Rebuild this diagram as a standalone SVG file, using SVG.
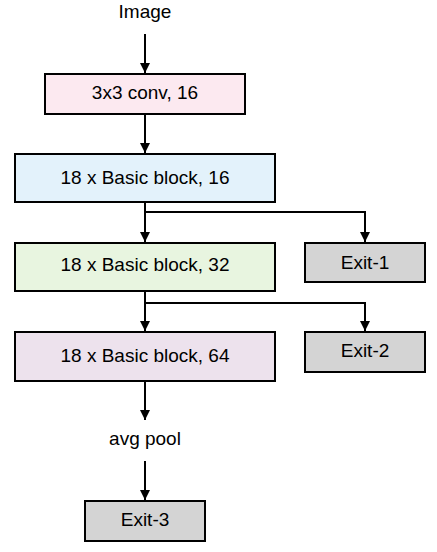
<svg xmlns="http://www.w3.org/2000/svg" width="437" height="552" viewBox="0 0 437 552">
<defs>
<marker id="ah" markerWidth="10" markerHeight="10" refX="10" refY="5" orient="auto" markerUnits="userSpaceOnUse">
<path d="M0,0 L10,5 L0,10 Z" fill="#000"/>
</marker>
<style>
.box{stroke:#000;stroke-width:2}
.t{font-family:"Liberation Sans",Arial,sans-serif;font-size:19px;fill:#000;text-anchor:middle}
.c{fill:none;stroke:#000;stroke-width:2;marker-end:url(#ah)}
</style>
</defs>
<rect width="437" height="552" fill="#fff"/>
<g id="connectors">
<path class="c" d="M145,34 V73"/>
<path class="c" d="M145,114 V153"/>
<path class="c" d="M145,202 V242"/>
<path class="c" d="M145,212 H365 V242"/>
<path class="c" d="M145,291 V331"/>
<path class="c" d="M145,303 H365 V331"/>
<path class="c" d="M145,381 V420"/>
<path class="c" d="M145,461 V500"/>
</g>
<g id="image"><text class="t" x="145" y="18">Image</text></g>
<g id="conv"><rect class="box" x="45" y="74" width="200" height="40" fill="#fce9f0"/><text class="t" x="145" y="98.5">3x3 conv, 16</text></g>
<g id="block16"><rect class="box" x="15" y="154" width="260" height="48" fill="#e3f2fb"/><text class="t" x="145" y="183.5">18 x Basic block, 16</text></g>
<g id="block32"><rect class="box" x="15" y="243" width="260" height="48" fill="#e8f5e0"/><text class="t" x="145" y="271">18 x Basic block, 32</text></g>
<g id="exit1"><rect class="box" x="305" y="243" width="120" height="39" fill="#d4d4d4"/><text class="t" x="365" y="268.5">Exit-1</text></g>
<g id="block64"><rect class="box" x="15" y="332" width="260" height="49" fill="#ede2ed"/><text class="t" x="145" y="362">18 x Basic block, 64</text></g>
<g id="exit2"><rect class="box" x="305" y="332" width="120" height="40" fill="#d4d4d4"/><text class="t" x="365" y="357">Exit-2</text></g>
<g id="avgpool"><text class="t" x="145" y="445">avg pool</text></g>
<g id="exit3"><rect class="box" x="85" y="501" width="120" height="40" fill="#d4d4d4"/><text class="t" x="145" y="525.5">Exit-3</text></g>
</svg>
